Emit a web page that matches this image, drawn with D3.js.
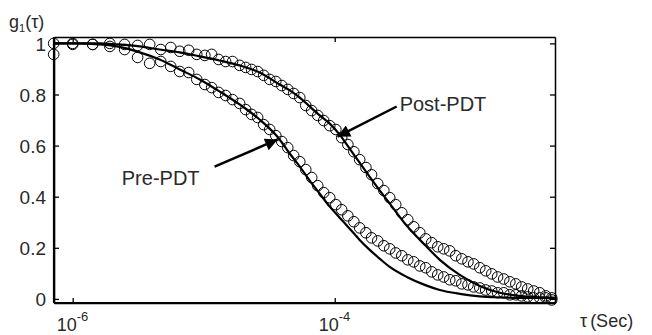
<!DOCTYPE html>
<html>
<head>
<meta charset="utf-8">
<script src="https://cdn.jsdelivr.net/npm/d3@7"></script>
<style>
  body { margin: 0; background: #fff; }
  text { font-family: "Liberation Sans", Arial, sans-serif; fill: #2a2a2a; }
</style>
</head>
<body>
<div id="chart"></div>
<script>
// lag times of the correlator (s), shared by both measurements
const tau = [7.16e-7, 1.0e-6, 1.42e-6, 1.92e-6, 2.49e-6, 3.13e-6, 3.87e-6, 4.70e-6, 5.60e-6, 6.56e-6,
  7.68e-6, 8.85e-6, 1.02e-5, 1.15e-5, 1.30e-5, 1.47e-5, 1.66e-5, 1.88e-5, 2.09e-5, 2.32e-5,
  2.58e-5, 2.87e-5, 3.19e-5, 3.55e-5, 3.94e-5, 4.38e-5, 4.86e-5, 5.41e-5, 6.01e-5, 6.67e-5,
  7.42e-5, 8.24e-5, 9.16e-5, 1.02e-4, 1.13e-4, 1.26e-4, 1.40e-4, 1.55e-4, 1.73e-4, 1.91e-4,
  2.13e-4, 2.37e-4, 2.63e-4, 2.92e-4, 3.25e-4, 3.61e-4, 4.01e-4, 4.46e-4, 4.95e-4, 5.50e-4,
  6.11e-4, 6.79e-4, 7.55e-4, 8.39e-4, 9.32e-4, 1.04e-3, 1.15e-3, 1.28e-3, 1.42e-3, 1.58e-3,
  1.75e-3, 1.95e-3, 2.17e-3, 2.41e-3, 2.67e-3, 2.97e-3, 3.30e-3, 3.67e-3, 4.08e-3, 4.53e-3];

const preData = [0.957, 0.996, 0.996, 0.988, 0.976, 0.945, 0.922, 0.929, 0.910, 0.890,
  0.886, 0.859, 0.839, 0.827, 0.808, 0.796, 0.780, 0.765, 0.741, 0.722,
  0.710, 0.682, 0.663, 0.639, 0.616, 0.592, 0.561, 0.537, 0.506, 0.475,
  0.443, 0.416, 0.396, 0.369, 0.349, 0.325, 0.302, 0.278, 0.259, 0.239,
  0.227, 0.208, 0.196, 0.180, 0.169, 0.153, 0.145, 0.129, 0.122, 0.106,
  0.094, 0.086, 0.075, 0.071, 0.059, 0.055, 0.047, 0.043, 0.035, 0.031,
  0.024, 0.024, 0.016, 0.016, 0.012, 0.008, 0.004, 0.004, 0.004, -0.004];

const postData = [1.0, 1.0, 0.996, 1.0, 0.996, 0.992, 0.996, 0.976, 0.984, 0.969,
  0.973, 0.957, 0.953, 0.957, 0.937, 0.929, 0.929, 0.914, 0.906, 0.898,
  0.890, 0.875, 0.859, 0.851, 0.835, 0.820, 0.804, 0.788, 0.757, 0.737,
  0.718, 0.698, 0.678, 0.663, 0.631, 0.604, 0.576, 0.545, 0.514, 0.486,
  0.451, 0.424, 0.396, 0.369, 0.337, 0.310, 0.282, 0.259, 0.235, 0.220,
  0.204, 0.196, 0.188, 0.169, 0.157, 0.145, 0.137, 0.122, 0.110, 0.098,
  0.086, 0.078, 0.067, 0.059, 0.047, 0.039, 0.031, 0.024, 0.012, 0.004];

// fitted curves
const fitTau = [7.16e-7, 1.0e-6, 1.61e-6, 2.17e-6, 3.25e-6, 4.61e-6, 6.56e-6, 9.32e-6, 1.32e-5, 1.88e-5,
  2.67e-5, 3.80e-5, 4.53e-5, 5.41e-5, 6.44e-5, 7.68e-5, 9.16e-5, 1.09e-4, 1.30e-4, 1.55e-4,
  1.85e-4, 2.21e-4, 2.63e-4, 3.55e-4, 4.86e-4, 6.34e-4, 9.00e-4, 1.28e-3, 1.82e-3, 2.58e-3, 4.78e-3];

const preFit = [1.0, 1.0, 0.996, 0.988, 0.965, 0.937, 0.898, 0.859, 0.812, 0.761,
  0.702, 0.624, 0.569, 0.518, 0.463, 0.412, 0.361, 0.318, 0.275, 0.231,
  0.192, 0.157, 0.125, 0.086, 0.055, 0.035, 0.020, 0.010, 0.006, 0.004, 0.004];

const postFit = [1.0, 1.0, 1.0, 0.996, 0.988, 0.976, 0.965, 0.949, 0.933, 0.914,
  0.886, 0.839, 0.816, 0.788, 0.753, 0.718, 0.686, 0.643, 0.588, 0.533,
  0.478, 0.424, 0.373, 0.286, 0.212, 0.153, 0.094, 0.051, 0.024, 0.012, 0.004];

const yTicks = [0, 0.2, 0.4, 0.6, 0.8, 1];
const xTicks = [1e-6, 1e-4];
const xTickExp = ["-6", "-4"];

// annotations: label anchor and arrow tail -> tip, in data units
const notes = [
  { text: "Pre-PDT", at: [2.37e-6, 0.447], from: [1.21e-5, 0.518], to: [3.67e-5, 0.624] },
  { text: "Post-PDT", at: [3.13e-4, 0.737], from: [2.97e-4, 0.753], to: [1.05e-4, 0.635] }
];

const W = 652, H = 335;
const margin = { top: 37, right: 97, bottom: 32, left: 54 };
const width = W - margin.left - margin.right;
const height = H - margin.top - margin.bottom;

const svg = d3.select("#chart").append("svg")
  .attr("width", W).attr("height", H);

const g = svg.append("g")
  .attr("transform", `translate(${margin.left},${margin.top})`);

const x = d3.scaleLog().domain([7.2e-7, 4.8e-3]).range([0, width]);
const y = d3.scaleLinear().domain([-0.016, 1.025]).range([height, 0]);

// fit lines
const line = d3.line()
  .x((d) => x(d[0]))
  .y((d) => y(d[1]))
  .curve(d3.curveMonotoneX);

[preFit, postFit].forEach((fit) => {
  g.append("path")
    .datum(fitTau.map((t, i) => [t, fit[i]]))
    .attr("fill", "none")
    .attr("stroke", "#000")
    .attr("stroke-width", 2.2)
    .attr("d", line);
});

// measured points
[preData, postData].forEach((vals) => {
  g.append("g").selectAll("circle")
    .data(tau.map((t, i) => [t, vals[i]]))
    .join("circle")
    .attr("cx", (d) => x(d[0]))
    .attr("cy", (d) => y(d[1]))
    .attr("r", 5.3)
    .attr("fill", "none")
    .attr("stroke", "#000")
    .attr("stroke-width", 1);
});

// axes box with inward ticks
const yAxisL = d3.axisLeft(y).tickValues(yTicks).tickSizeInner(-5).tickSizeOuter(0)
  .tickPadding(8).tickFormat(d3.format("~g"));
const yAxisR = d3.axisRight(y).tickValues(yTicks).tickSizeInner(-5).tickSizeOuter(0)
  .tickFormat("");
const xAxisB = d3.axisBottom(x).tickValues(xTicks).tickSizeInner(-5).tickSizeOuter(0)
  .tickFormat("");
const xAxisT = d3.axisTop(x).tickValues(xTicks).tickSizeInner(-5).tickSizeOuter(0)
  .tickFormat("");

const gl = g.append("g").call(yAxisL);
g.append("g").attr("transform", `translate(${width},0)`).call(yAxisR);
g.append("g").attr("transform", `translate(0,${height})`).call(xAxisB);
g.append("g").call(xAxisT);

g.selectAll(".domain").attr("stroke", "#000").attr("stroke-width", 1.5);
g.selectAll(".tick line").attr("stroke", "#000").attr("stroke-width", 1.3);
gl.selectAll(".tick text")
  .style("font-size", "19px")
  .attr("fill", "#2a2a2a")
  .attr("dy", "0.36em");

// thicker left and bottom spines
g.append("line").attr("x1", 0).attr("x2", 0).attr("y1", 0).attr("y2", height)
  .attr("stroke", "#000").attr("stroke-width", 2.2);
g.append("line").attr("x1", 0).attr("x2", width).attr("y1", height).attr("y2", height)
  .attr("stroke", "#000").attr("stroke-width", 2.2);

// x tick labels as powers of ten
xTicks.forEach((t, i) => {
  const lab = g.append("text")
    .attr("x", x(t) - 16)
    .attr("y", height + 28)
    .style("font-size", "18px");
  lab.append("tspan").text("10");
  lab.append("tspan").attr("dy", -10).style("font-size", "13px").text(xTickExp[i]);
});

// axis titles
const yt = svg.append("text").attr("x", 9).attr("y", 28).style("font-size", "18px");
yt.append("tspan").text("g");
yt.append("tspan").attr("dy", 4).style("font-size", "11px").text("1");
yt.append("tspan").attr("dy", -4).text("(τ)");

const xt = svg.append("text").attr("x", 580).attr("y", 327).style("font-size", "18px");
xt.append("tspan").text("τ");
xt.append("tspan").attr("dx", 3).text("(Sec)");

// arrow annotations
svg.append("defs").append("marker")
  .attr("id", "head")
  .attr("viewBox", "0 0 10 10")
  .attr("refX", 10).attr("refY", 5)
  .attr("markerWidth", 6).attr("markerHeight", 5)
  .attr("markerUnits", "strokeWidth")
  .attr("orient", "auto")
  .append("path").attr("d", "M0,0 L10,5 L0,10 z").attr("fill", "#000");

notes.forEach((n) => {
  g.append("text")
    .attr("x", x(n.at[0]))
    .attr("y", y(n.at[1]))
    .style("font-size", "20px")
    .text(n.text);
  g.append("line")
    .attr("x1", x(n.from[0])).attr("y1", y(n.from[1]))
    .attr("x2", x(n.to[0])).attr("y2", y(n.to[1]))
    .attr("stroke", "#000")
    .attr("stroke-width", 2.5)
    .attr("marker-end", "url(#head)");
});
</script>
</body>
</html>
